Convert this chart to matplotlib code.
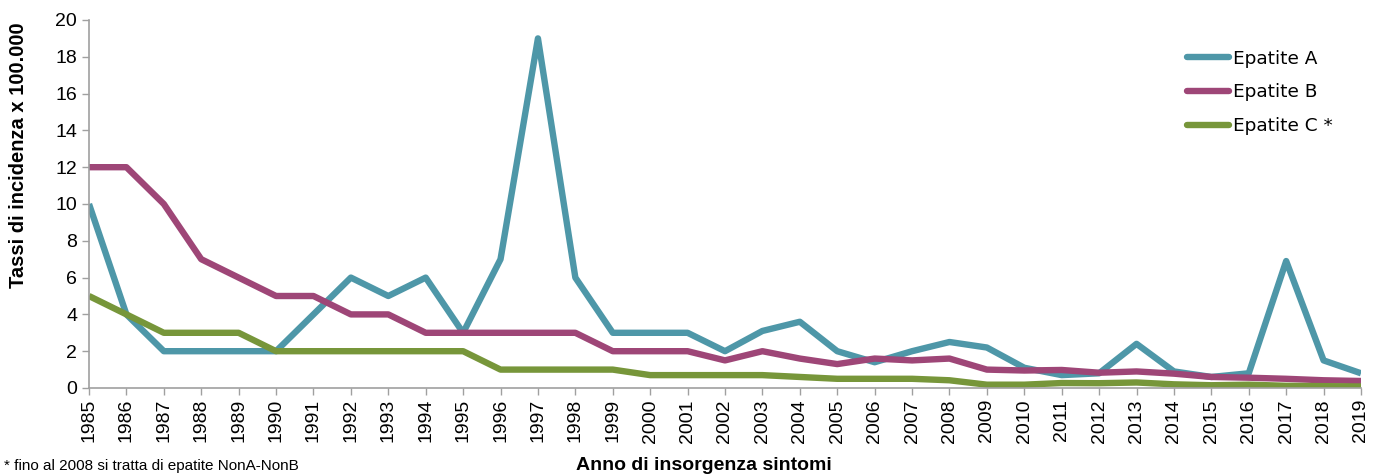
import matplotlib
matplotlib.use("Agg")
import matplotlib.pyplot as plt
from matplotlib import font_manager

years = list(range(1985, 2020))
hep_a = [10, 4, 2, 2, 2, 2, 4, 6, 5, 6, 3, 7, 19, 6, 3, 3, 3, 2, 3.1, 3.6,
         2, 1.4, 2, 2.5, 2.2, 1.1, 0.7, 0.8, 2.4, 0.9, 0.6, 0.8, 6.9, 1.5, 0.8]
hep_b = [12, 12, 10, 7, 6, 5, 5, 4, 4, 3, 3, 3, 3, 3, 2, 2, 2, 1.5, 2, 1.6,
         1.3, 1.6, 1.5, 1.6, 1.0, 0.95, 0.98, 0.83, 0.9, 0.78, 0.6, 0.56, 0.5, 0.42, 0.38]
hep_c = [5, 4, 3, 3, 3, 2, 2, 2, 2, 2, 2, 1, 1, 1, 1, 0.7, 0.7, 0.7, 0.7, 0.6,
         0.5, 0.5, 0.5, 0.42, 0.18, 0.18, 0.27, 0.26, 0.3, 0.2, 0.15, 0.18, 0.12, 0.1, 0.08]
labels = ["Epatite A", "Epatite B", "Epatite C *"]
colors = ["#4E97A8", "#9E4677", "#77963A"]

available = {f.name for f in font_manager.fontManager.ttflist}
narrow = "Liberation Sans Narrow" if "Liberation Sans Narrow" in available else "Liberation Sans"

fig = plt.figure(figsize=(13.84, 4.76), dpi=100)
ax = fig.add_axes([89/1384, 1-388/476, (1361-89)/1384, (388-20)/476])

for vals, lab, col in zip([hep_a, hep_b, hep_c], labels, colors):
    ax.plot(years, vals, color=col, lw=4.6, label=lab,
            solid_joinstyle="round", solid_capstyle="butt")

ax.set_xlim(1985, 2019)
ax.set_ylim(0, 20)
ax.set_yticks(range(0, 21, 2))
ax.set_xticks(years)
ax.set_xticklabels([str(y) for y in years], rotation=90, fontsize=14,
                   family=["Liberation Sans", "DejaVu Sans"])
for t in ax.get_yticklabels():
    t.set_fontsize(14)
    t.set_family(["Liberation Sans", "DejaVu Sans"])
for s in ["top", "right"]:
    ax.spines[s].set_visible(False)
for s in ["left", "bottom"]:
    ax.spines[s].set_color("#A0A0A0")
    ax.spines[s].set_linewidth(1.2)
ax.tick_params(axis="both", colors="#A0A0A0", labelcolor="black", length=5, width=1)
ax.tick_params(axis="x", pad=3)

fig.text(19/1384, 1-155/476, "Tassi di incidenza x 100.000", fontsize=14.5,
         fontweight="bold", rotation=90, va="center", ha="center",
         family=[narrow, "DejaVu Sans"])

leg = ax.legend(loc="upper left", frameon=False,
                handlelength=2.3, handletextpad=0.2, labelspacing=0.85,
                prop={"family": "DejaVu Sans", "size": 13.3})
for h in leg.get_lines():
    h.set_solid_capstyle("round")
leg.set_bbox_to_anchor((1170/1384, 1-33/476), transform=fig.transFigure)

fig.text(4/1384, 1-466/476, "* fino al 2008 si tratta di epatite NonA-NonB",
         fontsize=11, va="center", ha="left", family=[narrow, "DejaVu Sans"])
fig.text(704/1384, 1-466/476, "Anno di insorgenza sintomi", fontsize=14,
         fontweight="bold", va="center", ha="center", family=[narrow, "DejaVu Sans"])

fig.savefig("out.png", dpi=100)
